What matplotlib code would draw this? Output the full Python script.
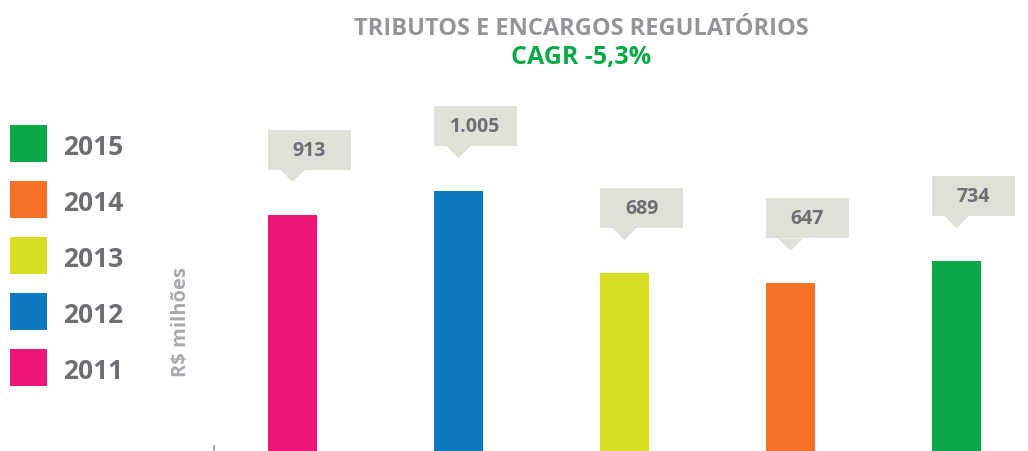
import matplotlib
matplotlib.use("Agg")
import matplotlib.pyplot as plt
from matplotlib.patches import Rectangle, Polygon
from matplotlib.transforms import ScaledTranslation

plt.rcParams['font.family'] = ['Open Sans', 'DejaVu Sans']

# ---- data ----
years = ['2011', '2012', '2013', '2014', '2015']
values = [913, 1005, 689, 647, 734]
value_labels = ['913', '1.005', '689', '647', '734']
colors = ['#ED1777', '#0C79C1', '#D7DF23', '#F37024', '#0BA84A']
title = 'TRIBUTOS E ENCARGOS REGULATÓRIOS'
subtitle = 'CAGR -5,3%'
ylabel = 'R$ milhões'

W, H, DPI = 1028, 452, 100
fig = plt.figure(figsize=(W / DPI, H / DPI), dpi=DPI)
fig.patch.set_facecolor('white')

# axes: left edge at px 214, bars spaced 166 px, first centre at 292.5 px
ax_left = 214
ax = fig.add_axes([ax_left / W, 0, 1 - ax_left / W, 1])
step = 166.0
x0 = (ax_left - 292.5) / step
x1 = (W - 292.5) / step
ax.set_xlim(x0, x1)
px_per_unit = 0.259
ax.set_ylim(0, H / px_per_unit)

bar_w = 49 / step
xs = list(range(len(years)))
ax.bar(xs, values, width=bar_w, color=colors, zorder=2)

for s in ax.spines.values():
    s.set_visible(False)
ax.set_yticks([])
ax.set_xticks([x0])
ax.set_xticklabels([''])
ax.tick_params(axis='x', direction='in', length=4.5, width=1.2, color='#9a9a9a')
ax.patch.set_alpha(0)

# callouts
box_col = '#E0E0D8'
bw, bh = 0.83, 0.40      # box size in inches
gap = 0.45                # box bottom above bar top (inches)
for x, v, lab in zip(xs, values, value_labels):
    tr = fig.dpi_scale_trans + ScaledTranslation(x - bar_w / 2, v, ax.transData)
    ax.add_patch(Rectangle((0, gap), bw, bh, transform=tr, facecolor=box_col,
                           edgecolor='none', clip_on=False, zorder=3))
    ax.add_patch(Polygon([(0.12, gap), (0.37, gap), (0.245, gap - 0.125)],
                         closed=True, transform=tr, facecolor=box_col,
                         edgecolor='none', clip_on=False, zorder=3))
    ax.text(bw / 2, gap + bh / 2, lab, transform=tr, ha='center', va='center',
            fontsize=14, fontweight='bold', color='#6D6E71', zorder=4)

# titles
fig.text(581 / W, 1 - 35 / H, title, ha='center', va='baseline',
         fontsize=17, fontweight='bold', color='#939598')
fig.text(581 / W, 1 - 64 / H, subtitle, ha='center', va='baseline',
         fontsize=18, fontweight='bold', color='#0BA84A')

# y label
fig.text(181 / W, 1 - 322 / H, ylabel, ha='center', va='center', rotation=90,
         fontsize=14.5, fontweight='bold', color='#A7A9AC')

# legend (2015 on top)
sq = 37
top0 = 126
spacing = 56
for k, (yr, c) in enumerate(zip(years[::-1], colors[::-1])):
    top = top0 + k * spacing
    fig.patches.append(Rectangle((10 / W, 1 - (top + sq) / H), sq / W, sq / H,
                                 transform=fig.transFigure, facecolor=c,
                                 edgecolor='none', figure=fig))
    fig.text(63 / W, 1 - (top + sq / 2) / H, yr, ha='left', va='center_baseline',
             fontsize=19, fontweight='bold', color='#6D6E71')

fig.savefig('out.png', dpi=DPI, facecolor='white')
